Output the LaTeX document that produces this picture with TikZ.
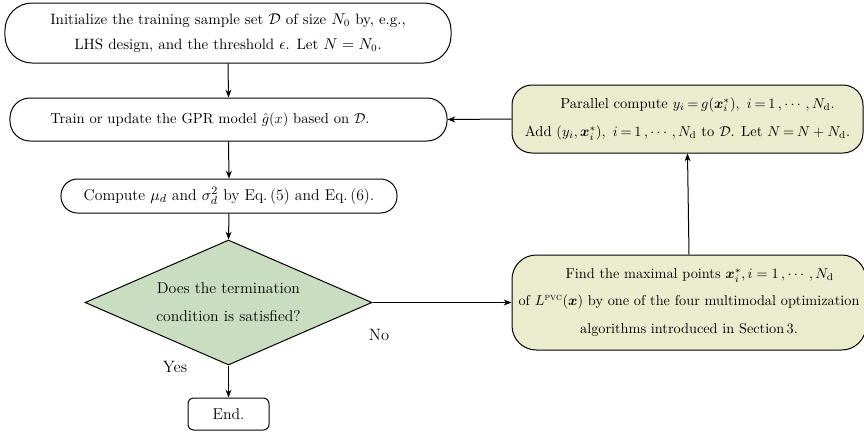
\documentclass[tikz,border=0pt]{standalone}
\usepackage{amsmath}
\usetikzlibrary{shapes.geometric,arrows.meta}
\definecolor{ylw}{RGB}{235,235,205}
\definecolor{grn}{RGB}{201,221,192}
\begin{document}
\begin{tikzpicture}[x=0.7pt,y=-0.7pt,
  box/.style={draw, line width=0.7pt, align=center, inner sep=0pt},
  arr/.style={-{Stealth[length=5.5pt,width=4.2pt]}, line width=0.7pt},
  lbl/.style={inner sep=0pt, font=\fontsize{11.5}{13}\selectfont}]
\useasboundingbox (0,0) rectangle (864,432);
% left column
\node[box, minimum width=312.2pt, minimum height=42pt, rounded corners=19pt,
      font=\fontsize{10.5}{17.5}\selectfont] (init) at (228,33)
  {Initialize the training sample set $\mathcal{D}$ of size $N_0$ by, e.g.,\\
   LHS design, and the threshold $\epsilon$. Let $N=N_0$.};
\node[box, minimum width=305.9pt, minimum height=30.1pt, rounded corners=14pt] (train) at (228.5,119.5) {};
\node[inner sep=0pt, anchor=west, font=\fontsize{10.2}{12}\selectfont] (traintxt) at (50,119.5)
  {Train or update the GPR model $\hat{g}(x)$ based on $\mathcal{D}$.};
\node[box, minimum width=235.2pt, minimum height=23.8pt, rounded corners=11.5pt,
      font=\fontsize{11}{13}\selectfont] (comp) at (229,196)
  {Compute $\mu_d$ and $\sigma_d^2$ by Eq.\,(5) and Eq.\,(6).};
\node[box, shape=diamond, aspect=2.3, fill=grn, minimum width=200.9pt, minimum height=87.5pt,
      font=\fontsize{11}{19.5}\selectfont] (dec) at (228.5,302.5)
  {Does the termination\\ condition is satisfied?};
\node[box, minimum width=56.7pt, minimum height=22.4pt, rounded corners=4pt,
      font=\fontsize{11}{13}\selectfont] (end) at (228.5,414) {End.};
% right column
\node[box, fill=ylw, minimum width=245.7pt, minimum height=47.6pt, rounded corners=14pt,
      font=\fontsize{10.2}{20}\selectfont] (par) at (687.5,119)
  {\thickmuskip=3.5mu\relax\hspace*{14pt}Parallel compute $y_i=g(\boldsymbol{x}_i^*),\ i=1\,,\cdots,N_{\mathrm{d}}$.\\
   \thickmuskip=3.5mu\relax Add $(y_i,\boldsymbol{x}_i^*),\ i=1\,,\cdots,N_{\mathrm{d}}$ to $\mathcal{D}$. Let $N=N+N_{\mathrm{d}}$.};
\node[box, fill=ylw, minimum width=247.8pt, minimum height=66.5pt, rounded corners=17pt,
      font=\fontsize{10}{19.2}\selectfont] (find) at (689,302.5)
  {\hspace*{15pt}Find the maximal points $\boldsymbol{x}_i^*,i=1\,,\cdots,N_{\mathrm{d}}$\\
   of $L^{\textsc{pvc}}(\boldsymbol{x})$ by one of the four multimodal optimization\\
   algorithms introduced in Section\,3.};
% connectors
\draw[arr] (init.south) -- (train.north);
\draw[arr] (train.south) -- (comp.north);
\draw[arr] (comp.south) -- (dec.north);
\draw[arr] (dec.south) -- (end.north);
\draw[arr] (dec.east) -- (find.west);
\draw[arr] (find.north) -- (par.south);
\draw[arr] (par.west) -- (train.east);
% labels
\node[lbl] (yes) at (175,367) {Yes};
\node[lbl] (no) at (379,335) {No};
\end{tikzpicture}
\end{document}
